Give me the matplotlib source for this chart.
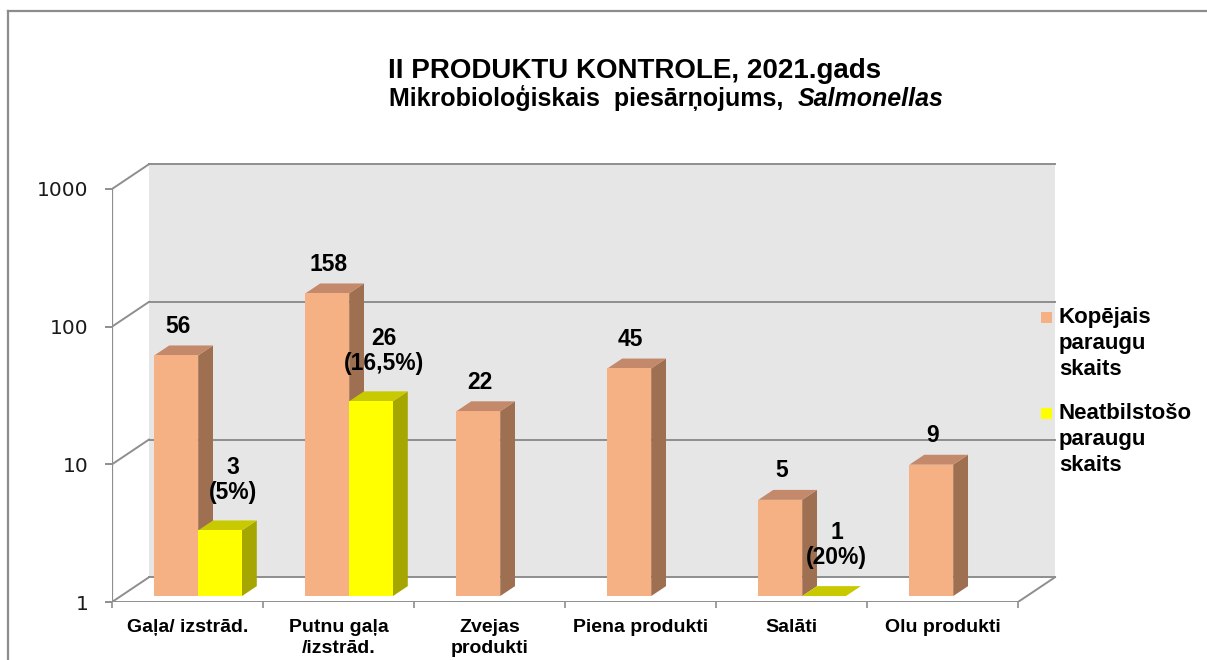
import numpy as np
import matplotlib.pyplot as plt
from matplotlib.patches import Polygon, Rectangle
from matplotlib.lines import Line2D

# data
categories = ['Gaļa/ izstrād.', 'Putnu gaļa\n/izstrād.', 'Zvejas\nprodukti',
              'Piena produkti', 'Salāti', 'Olu produkti']
total = [56, 158, 22, 45, 5, 9]
noncompliant = [3, 26, None, None, 1, None]
noncompliant_pct = ['5%', '16,5%', None, None, '20%', None]
yticks = [1, 10, 100, 1000]
series_names = ['Kopējais\nparaugu\nskaits', 'Neatbilstošo\nparaugu\nskaits']

# colours: front, side, top
orange = ('#F5B184', '#9E6F50', '#C4896A')
yellow = ('#FFFF00', '#A6A600', '#C9C900')
wall = '#E6E6E6'
grid = '#8E8E8E'

W, H = 1207, 660
fig = plt.figure(figsize=(W / 100, H / 100), dpi=100)
fig.patch.set_facecolor('white')

# frame around the picture
fig.add_artist(Line2D([8 / W, 8 / W], [0, 1 - 11 / H], color='#8C8C8C', lw=1.6))
fig.add_artist(Line2D([8 / W, 1], [1 - 11 / H, 1 - 11 / H], color='#8C8C8C', lw=1.6))

# axes = front plane of the 3d box
ax = fig.add_axes([112 / W, (H - 602) / H, 948 / W, 444 / H])
ax.set_yscale('log')
ax.set_xlim(-0.5, 5.778)
ax.set_ylim(1, 1679)
ax.patch.set_alpha(0)
for s in ax.spines.values():
    s.set_visible(False)

n = len(categories)
# depth of the box (data units / decades)
depth_x = 0.245
depth_dec = 0.18
F = 10 ** depth_dec

# back wall
x0, x1 = -0.5 + depth_x, n - 0.5 + depth_x
ax.add_patch(Polygon([(x0, 1 * F), (x1, 1 * F), (x1, 1000 * F), (x0, 1000 * F)],
                     closed=True, facecolor=wall, edgecolor='none', zorder=1))
for yv in yticks:
    ax.plot([x0, x1], [yv * F, yv * F], color=grid, lw=1.4, zorder=2)
    ax.plot([-0.5, x0], [yv, yv * F], color=grid, lw=1.4, zorder=2)
# floor
ax.add_patch(Polygon([(-0.5, 1), (n - 0.5, 1), (x1, F), (x0, F)], closed=True,
                     facecolor='white', edgecolor='none', zorder=1.5))
ax.plot([-0.5, n - 0.5], [1, 1], color=grid, lw=1.4, zorder=2)
ax.plot([n - 0.5, x1], [1, F], color=grid, lw=1.4, zorder=2)
ax.plot([-0.5, -0.5], [1, 1000], color=grid, lw=1.6, zorder=2)

# bars
bw = 0.29
off_x = 0.24 * depth_x + 0.012
off_f = 10 ** (0.24 * depth_dec)
bar_dx = 0.4 * depth_x
bar_g = 10 ** (0.4 * depth_dec)


def bar3d(xl, val, cols):
    fx = xl + off_x
    b, t = off_f, val * off_f
    front = [(fx, b), (fx + bw, b), (fx + bw, t), (fx, t)]
    side = [(fx + bw, b), (fx + bw, t), (fx + bw + bar_dx, t * bar_g), (fx + bw + bar_dx, b * bar_g)]
    top = [(fx, t), (fx + bw, t), (fx + bw + bar_dx, t * bar_g), (fx + bar_dx, t * bar_g)]
    for poly, c in ((side, cols[1]), (top, cols[2]), (front, cols[0])):
        ax.add_patch(Polygon(poly, closed=True, facecolor=c, edgecolor='none', zorder=3, clip_on=False))
    return fx + bw / 2, t


lab_font = dict(family='Liberation Sans', weight='bold', size=16.5, color='black')
for i in range(n):
    cx, ct = bar3d(i - bw, total[i], orange)
    ax.annotate(str(total[i]), (cx, ct * bar_g), xytext=(1, 9), textcoords='offset points',
                ha='center', va='baseline', zorder=5, **lab_font)
    if noncompliant[i] is not None:
        cx, ct = bar3d(i, noncompliant[i], yellow)
        ax.annotate('%d\n(%s)' % (noncompliant[i], noncompliant_pct[i]), (cx, ct * bar_g),
                    xytext=(9, 12), textcoords='offset points', ha='center', va='bottom',
                    linespacing=1.12, zorder=5, **lab_font)

# axis ticks and labels
ax.set_yticks(yticks)
ax.set_yticklabels([str(v) for v in yticks], family='DejaVu Sans', size=14.5, color='#1a1a1a')
ax.yaxis.set_minor_locator(plt.NullLocator())
ax.tick_params(axis='y', which='major', length=5, width=1.4, color=grid, pad=12)
ax.set_xticks(range(n))
ax.set_xticklabels(categories, family='Liberation Sans', weight='bold', size=14,
                   linespacing=1.35)
ax.set_xticks(np.arange(-0.5, n), minor=True)
ax.tick_params(axis='x', which='major', length=0, pad=12)
ax.tick_params(axis='x', which='minor', length=4, width=1.2, color=grid)

# legend
leg_font = dict(family='Liberation Sans', weight='bold', size=16, color='black')
for k, (name, cols) in enumerate(zip(series_names, (orange, yellow))):
    ytop = 307 + k * 96
    fig.add_artist(Rectangle((1041 / W, 1 - (ytop + 16) / H), 11 / W, 11 / H,
                             facecolor=cols[0], edgecolor='none'))
    fig.text(1059 / W, 1 - ytop / H, name, ha='left', va='top', linespacing=1.3, **leg_font)

# title
title_font = dict(family='Liberation Sans', weight='bold', size=20, color='black')
fig.text(635 / W, 1 - 78 / H, 'II PRODUKTU KONTROLE, 2021.gads', ha='center', va='baseline', **title_font)
title_font['size'] = 18
t1 = fig.text(0, 1 - 106 / H, 'Mikrobioloģiskais  piesārņojums,  ', ha='left', va='baseline', **title_font)
t2 = fig.text(0, 1 - 106 / H, 'Salmonellas', ha='left', va='baseline', style='italic', **title_font)
r = fig.canvas.get_renderer()
w1 = t1.get_window_extent(r).width
w2 = t2.get_window_extent(r).width
start = 666 - (w1 + w2) / 2
t1.set_x(start / W)
t2.set_x((start + w1) / W)

fig.savefig('out.png', dpi=100)
